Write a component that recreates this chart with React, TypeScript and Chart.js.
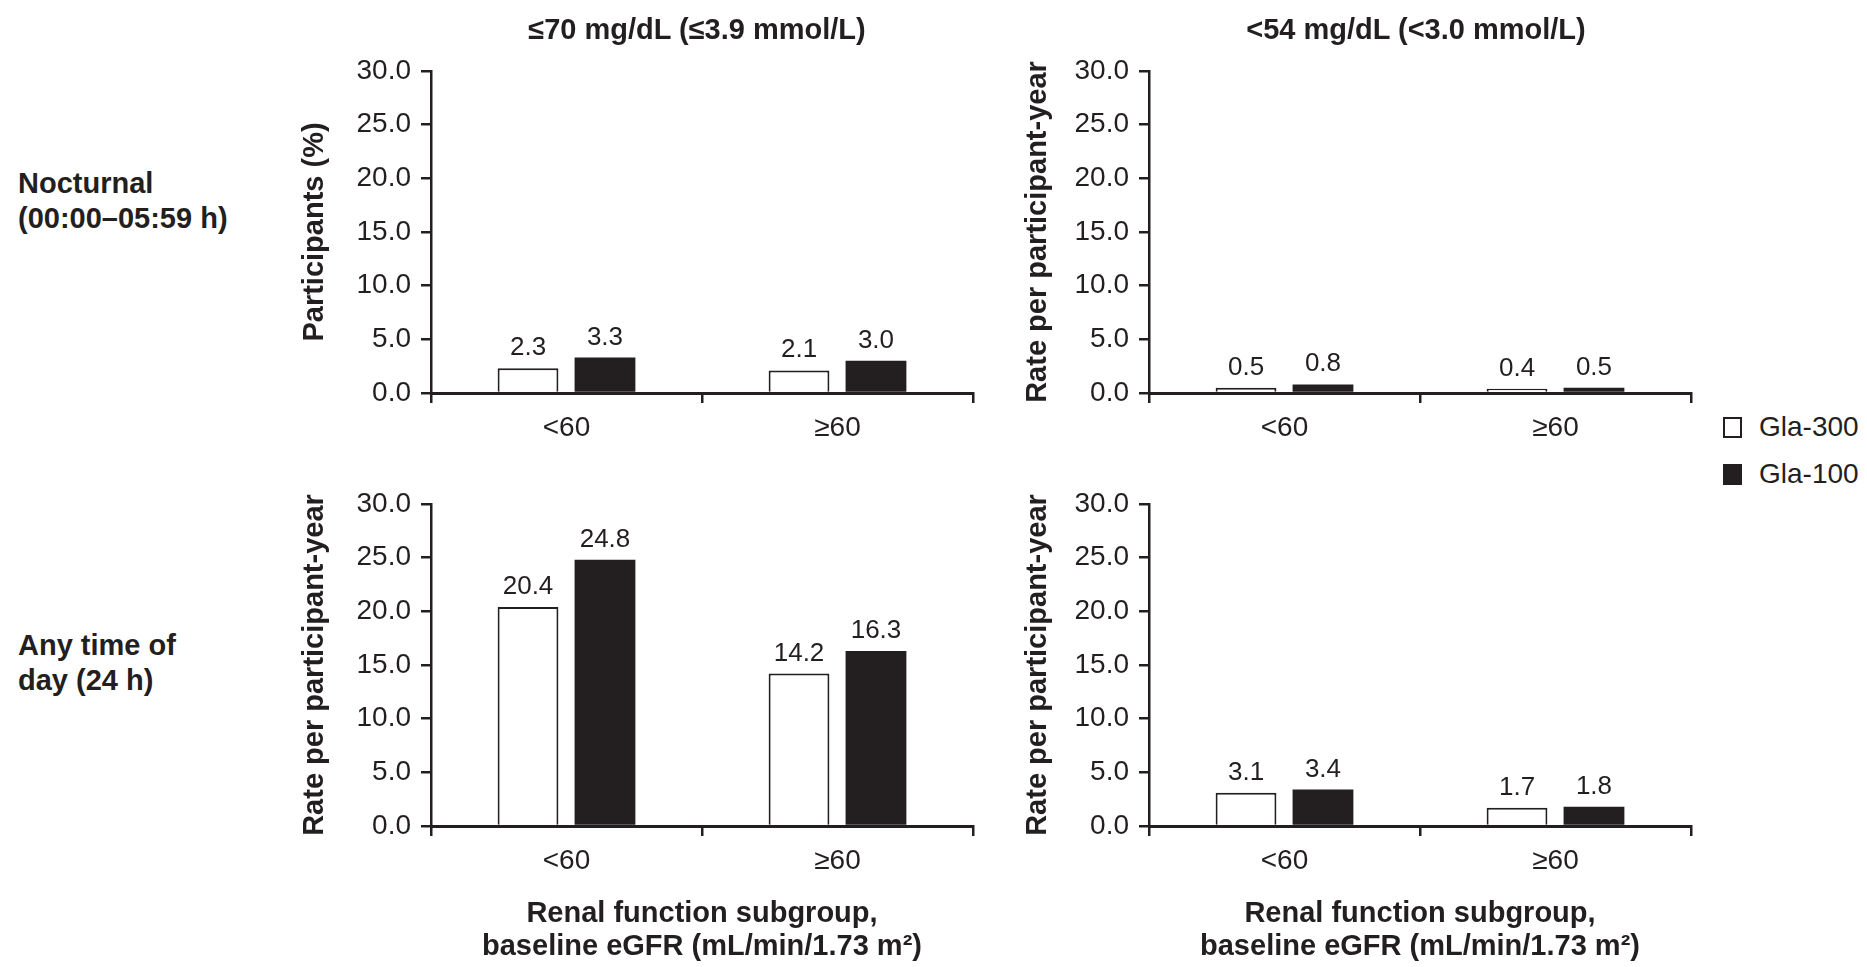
import React, { useEffect, useRef } from "react";
import { Chart, registerables } from "chart.js";

Chart.register(...registerables);

// ---------- data ----------
const categories = ["<60", "≥60"];
const seriesNames = ["Gla-300", "Gla-100"];
const yTickValues = [0, 5, 10, 15, 20, 25, 30];

const nocturnal70Gla300 = [2.3, 2.1];
const nocturnal70Gla100 = [3.3, 3.0];
const nocturnal54Gla300 = [0.5, 0.4];
const nocturnal54Gla100 = [0.8, 0.5];
const anytime70Gla300 = [20.4, 14.2];
const anytime70Gla100 = [24.8, 16.3];
const anytime54Gla300 = [3.1, 1.7];
const anytime54Gla100 = [3.4, 1.8];

const columnTitles = ["≤70 mg/dL (≤3.9 mmol/L)", "<54 mg/dL (<3.0 mmol/L)"];
const rowLabels = [
  ["Nocturnal", "(00:00–05:59 h)"],
  ["Any time of", "day (24 h)"],
];
const yTitles = ["Participants (%)", "Rate per participant-year", "Rate per participant-year", "Rate per participant-year"];
const xTitleLines = ["Renal function subgroup,", "baseline eGFR (mL/min/1.73 m²)"];

// ---------- style ----------
const INK = "#231f20";
const FONT = "'Liberation Sans', Arial, Helvetica, sans-serif";

type PanelProps = {
  a: number[];
  b: number[];
  yTitle: string;
  showXTitle: boolean;
  left: number;
  top: number;
  width: number;
  height: number;
  padTop: number;
  padRight: number;
  yWidth: number;
  xHeight: number;
  yTitlePad: number;
};

const valueLabels = {
  id: "valueLabels",
  afterDatasetsDraw(chart: any) {
    const ctx = chart.ctx;
    ctx.save();
    ctx.font = `26px ${FONT}`;
    ctx.fillStyle = INK;
    ctx.textAlign = "center";
    ctx.textBaseline = "alphabetic";
    chart.data.datasets.forEach((ds: any, i: number) => {
      const meta = chart.getDatasetMeta(i);
      meta.data.forEach((el: any, j: number) => {
        ctx.fillText(Number(ds.data[j]).toFixed(1), el.x, el.y - 13);
      });
    });
    ctx.restore();
  },
};

function Panel(p: PanelProps) {
  const ref = useRef<HTMLCanvasElement | null>(null);
  useEffect(() => {
    if (!ref.current) return;
    const chart = new Chart(ref.current, {
      type: "bar",
      data: {
        labels: categories,
        datasets: [
          {
            label: seriesNames[0],
            data: p.a,
            backgroundColor: "#ffffff",
            borderColor: INK,
            borderWidth: 2,
            categoryPercentage: 0.568,
            barPercentage: 0.79,
          },
          {
            label: seriesNames[1],
            data: p.b,
            backgroundColor: INK,
            borderColor: INK,
            borderWidth: 0,
            categoryPercentage: 0.568,
            barPercentage: 0.79,
          },
        ],
      },
      options: {
        responsive: false,
        animation: false,
        events: [],
        layout: { padding: { left: 0, top: p.padTop, right: p.padRight, bottom: 0 } },
        plugins: {
          legend: { display: false },
          tooltip: { enabled: false },
          title: { display: false },
        },
        scales: {
          x: {
            grid: {
              display: true,
              drawOnChartArea: false,
              drawTicks: true,
              tickLength: 10,
              lineWidth: 2.5,
              color: INK,
              offset: true,
            },
            border: { display: true, width: 3, color: INK },
            ticks: { color: INK, font: { family: FONT, size: 28 }, padding: 8 },
            title: {
              display: p.showXTitle,
              text: xTitleLines,
              color: INK,
              font: { family: FONT, size: 29, weight: "bold", lineHeight: 33 / 29 },
              padding: { top: 0, bottom: 3.5 },
            },
            afterFit: (s: any) => {
              s.height = p.xHeight;
            },
          },
          y: {
            min: yTickValues[0],
            max: yTickValues[yTickValues.length - 1],
            afterBuildTicks: (s: any) => {
              s.ticks = yTickValues.map((v) => ({ value: v }));
            },
            ticks: {
              stepSize: 5,
              callback: (v: any) => Number(v).toFixed(1),
              color: INK,
              font: { family: FONT, size: 28 },
              padding: 10,
            },
            grid: {
              drawOnChartArea: false,
              drawTicks: true,
              tickLength: 10,
              lineWidth: 2.5,
              color: INK,
            },
            border: { display: true, width: 2.5, color: INK },
            title: {
              display: true,
              text: p.yTitle,
              color: INK,
              font: { family: FONT, size: 29, weight: "bold", lineHeight: 1.2 },
              padding: { top: p.yTitlePad, bottom: 0 },
            },
            afterFit: (s: any) => {
              s.width = p.yWidth;
            },
          },
        },
      } as any,
      plugins: [valueLabels],
    });
    return () => chart.destroy();
  }, []);
  return (
    <canvas
      ref={ref}
      width={p.width}
      height={p.height}
      style={{ position: "absolute", left: p.left, top: p.top, width: p.width, height: p.height }}
    />
  );
}

const textBase: React.CSSProperties = {
  position: "absolute",
  fontFamily: FONT,
  color: INK,
  whiteSpace: "nowrap",
};

export default function App() {
  const topH = 450;
  const botH = 517;
  return (
    <div
      style={{
        position: "absolute",
        left: 0,
        top: 0,
        width: 1867,
        height: 967,
        background: "#ffffff",
        overflow: "hidden",
      }}
    >
      <Panel a={nocturnal70Gla300} b={nocturnal70Gla100} yTitle={yTitles[0]} showXTitle={false}
        left={260} top={0} width={730} height={topH} padTop={71} padRight={17} yWidth={171} xHeight={57} yTitlePad={37.6} />
      <Panel a={nocturnal54Gla300} b={nocturnal54Gla100} yTitle={yTitles[1]} showXTitle={false}
        left={990} top={0} width={720} height={topH} padTop={71} padRight={19} yWidth={159} xHeight={57} yTitlePad={30.6} />
      <Panel a={anytime70Gla300} b={anytime70Gla100} yTitle={yTitles[2]} showXTitle={true}
        left={260} top={450} width={730} height={botH} padTop={54} padRight={17} yWidth={171} xHeight={141} yTitlePad={37.6} />
      <Panel a={anytime54Gla300} b={anytime54Gla100} yTitle={yTitles[3]} showXTitle={true}
        left={990} top={450} width={720} height={botH} padTop={54} padRight={19} yWidth={159} xHeight={141} yTitlePad={30.6} />

      {/* column titles */}
      <div style={{ ...textBase, left: 697 - 300, width: 600, top: 12, lineHeight: "34px", fontSize: 29, fontWeight: "bold", textAlign: "center" }}>
        {columnTitles[0]}
      </div>
      <div style={{ ...textBase, left: 1416 - 300, width: 600, top: 12, lineHeight: "34px", fontSize: 29, fontWeight: "bold", textAlign: "center" }}>
        {columnTitles[1]}
      </div>

      {/* row labels */}
      <div style={{ ...textBase, left: 18, top: 166, lineHeight: "35px", fontSize: 29, fontWeight: "bold" }}>
        {rowLabels[0][0]}
        <br />
        {rowLabels[0][1]}
      </div>
      <div style={{ ...textBase, left: 18, top: 628, lineHeight: "35px", fontSize: 29, fontWeight: "bold" }}>
        {rowLabels[1][0]}
        <br />
        {rowLabels[1][1]}
      </div>

      {/* legend */}
      <div style={{ position: "absolute", left: 1723, top: 417, width: 19, height: 21, boxSizing: "border-box", border: `2px solid ${INK}`, background: "#fff" }} />
      <div style={{ ...textBase, left: 1759, top: 427 - 17, lineHeight: "34px", fontSize: 28 }}>{seriesNames[0]}</div>
      <div style={{ position: "absolute", left: 1723, top: 464, width: 19, height: 21, boxSizing: "border-box", border: `2px solid ${INK}`, background: INK }} />
      <div style={{ ...textBase, left: 1759, top: 474 - 17, lineHeight: "34px", fontSize: 28 }}>{seriesNames[1]}</div>
    </div>
  );
}
